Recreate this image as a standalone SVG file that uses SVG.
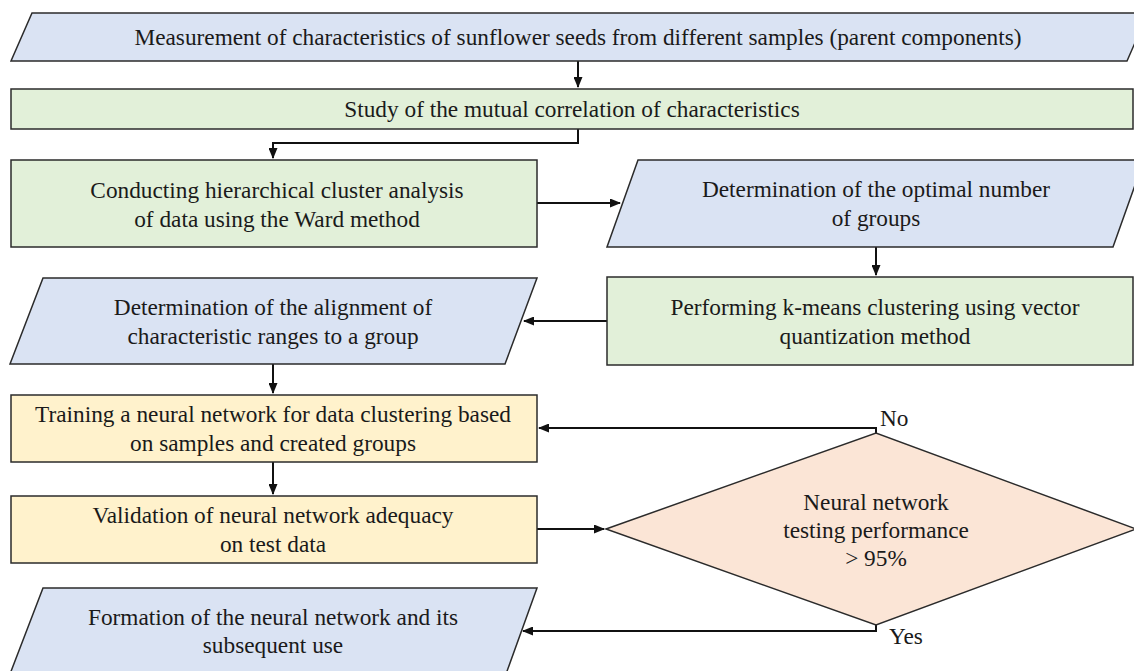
<svg xmlns="http://www.w3.org/2000/svg" width="1134" height="671" viewBox="0 0 1134 671">
<style>
.box{stroke:#2b2b2b;stroke-width:1.5}
.blue{fill:#dae3f3}
.green{fill:#e2f0d9}
.yellow{fill:#fff2cc}
.peach{fill:#fbe5d6}
.t{font-family:'Liberation Serif','Times New Roman',serif;font-size:23.3px;fill:#1a1a1a}
.c{text-anchor:middle}
.conn{fill:none;stroke:#111;stroke-width:2}
</style>
<defs>
<marker id="arr" markerUnits="userSpaceOnUse" markerWidth="11" markerHeight="9" refX="10" refY="4.5" orient="auto">
<path d="M0,0 L11,4.5 L0,9 Z" fill="#111"/>
</marker>
</defs>
<rect width="1134" height="671" fill="#fff"/>
<g id="connectors">
<path class="conn" d="M578,61 V87" marker-end="url(#arr)"/>
<path class="conn" d="M578,129 V143 H273 V158" marker-end="url(#arr)"/>
<path class="conn" d="M537,203 H620" marker-end="url(#arr)"/>
<path class="conn" d="M876,247 V275" marker-end="url(#arr)"/>
<path class="conn" d="M607,321 H524" marker-end="url(#arr)"/>
<path class="conn" d="M273,364 V393" marker-end="url(#arr)"/>
<path class="conn" d="M273,462 V494" marker-end="url(#arr)"/>
<path class="conn" d="M537,529 H604" marker-end="url(#arr)"/>
<path class="conn" d="M876,433 V428 H539" marker-end="url(#arr)"/>
<path class="conn" d="M876,625 V631 H523" marker-end="url(#arr)"/>
</g>
<g id="n1">
<polygon class="box blue" points="32,13 1148,13 1127,61 11,61"/>
<text class="t c" x="578" y="45">Measurement of characteristics of sunflower seeds from different samples (parent components)</text>
</g>
<g id="n2">
<rect class="box green" x="11" y="89" width="1122" height="40"/>
<text class="t c" x="572" y="117">Study of the mutual correlation of characteristics</text>
</g>
<g id="n3">
<rect class="box green" x="11" y="160" width="526" height="87"/>
<text class="t c" x="277" y="198">Conducting hierarchical cluster analysis</text>
<text class="t c" x="277" y="227">of data using the Ward method</text>
</g>
<g id="n4">
<polygon class="box blue" points="638,160 1144,160 1113,247 607,247"/>
<text class="t c" x="876" y="197">Determination of the optimal number</text>
<text class="t c" x="876" y="226">of groups</text>
</g>
<g id="n5">
<rect class="box green" x="607" y="277" width="526" height="88"/>
<text class="t c" x="875" y="315">Performing k-means clustering using vector</text>
<text class="t c" x="875" y="344">quantization method</text>
</g>
<g id="n6">
<polygon class="box blue" points="43,278 537,278 505,364 10,364"/>
<text class="t c" x="273" y="315">Determination of the alignment of</text>
<text class="t c" x="273" y="344">characteristic ranges to a group</text>
</g>
<g id="n7">
<rect class="box yellow" x="11" y="395" width="526" height="67"/>
<text class="t c" x="273" y="422">Training a neural network for data clustering based</text>
<text class="t c" x="273" y="451">on samples and created groups</text>
</g>
<g id="n8">
<rect class="box yellow" x="11" y="496" width="526" height="67"/>
<text class="t c" x="273" y="523">Validation of neural network adequacy</text>
<text class="t c" x="273" y="552">on test data</text>
</g>
<g id="n9">
<polygon class="box peach" points="606,529 876,433 1136,529 876,625"/>
<text class="t c" x="876" y="510">Neural network</text>
<text class="t c" x="876" y="538">testing performance</text>
<text class="t c" x="876" y="566">&gt; 95%</text>
</g>
<g id="n10">
<polygon class="box blue" points="43,588 537,588 506,674 10,674"/>
<text class="t c" x="273" y="625">Formation of the neural network and its</text>
<text class="t c" x="273" y="653">subsequent use</text>
</g>
<text class="t" x="880" y="426">No</text>
<text class="t" x="889" y="644">Yes</text>
</svg>
